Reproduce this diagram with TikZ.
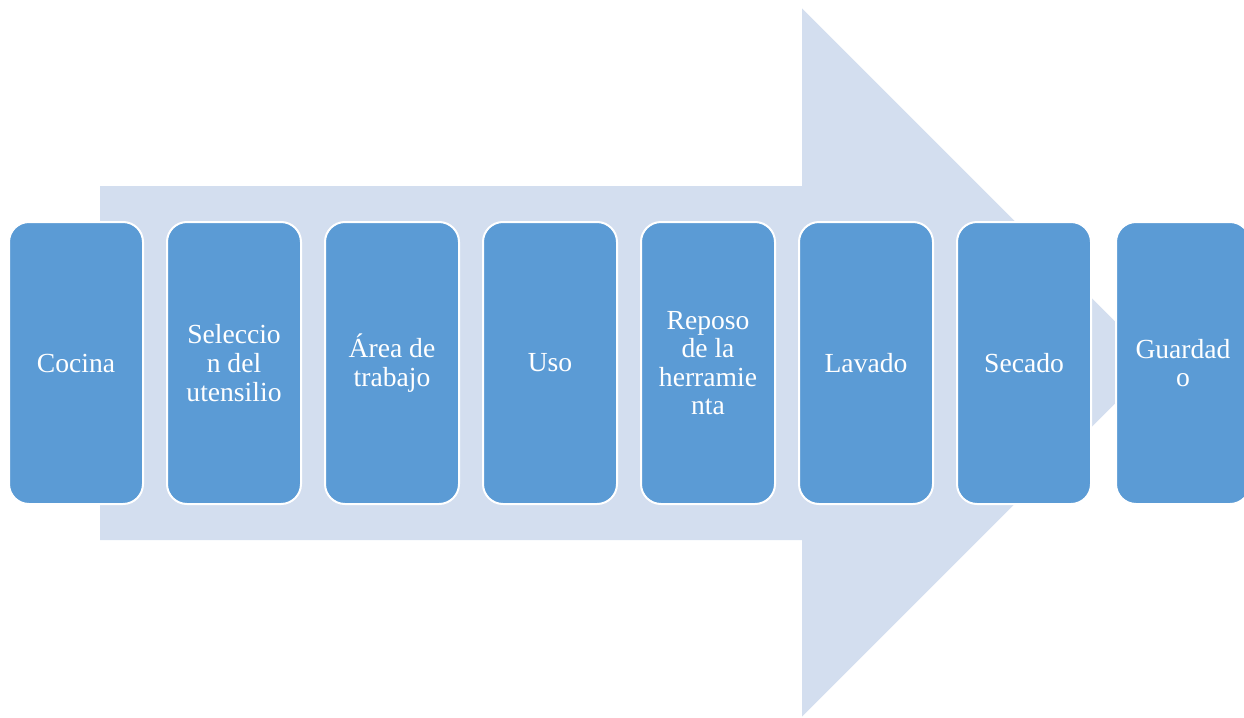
\documentclass[tikz,border=0pt]{standalone}
\usepackage{fontspec}
\setmainfont{Liberation Serif}
\definecolor{arrowfill}{HTML}{D3DEEF}
\definecolor{boxfill}{HTML}{5B9BD5}
\tikzset{
  stepbox/.style={draw=white, line width=2pt, fill=boxfill, rounded corners=20pt,
    minimum width=134pt, minimum height=282pt, inner sep=0pt,
    text=white, align=center, font=\fontsize{27.6}{28.6}\selectfont},
}
\begin{document}
\begin{tikzpicture}[x=1pt,y=-1pt]
\useasboundingbox (0,0) rectangle (1244,717);
\clip (0,0) rectangle (1244,717);
\fill[arrowfill] (100,186) -- (802,186) -- (802,8.5) -- (1156,362.5) -- (802,716.5) -- (802,540) -- (100,540) -- cycle;
\node[stepbox] (n1) at (76,363) {Cocina};
\node[stepbox] (n2) at (234,363) {Seleccio\\n del\\utensilio};
\node[stepbox] (n3) at (392,363) {Área de\\trabajo};
\node[stepbox] (n4) at (550,363) {Uso};
\node[stepbox] (n5) at (708,363) {Reposo\\de la\\herramie\\nta};
\node[stepbox] (n6) at (866,363) {Lavado};
\node[stepbox] (n7) at (1024,363) {Secado};
\node[stepbox] (n8) at (1183,363) {Guardad\\o};
\end{tikzpicture}
\end{document}
